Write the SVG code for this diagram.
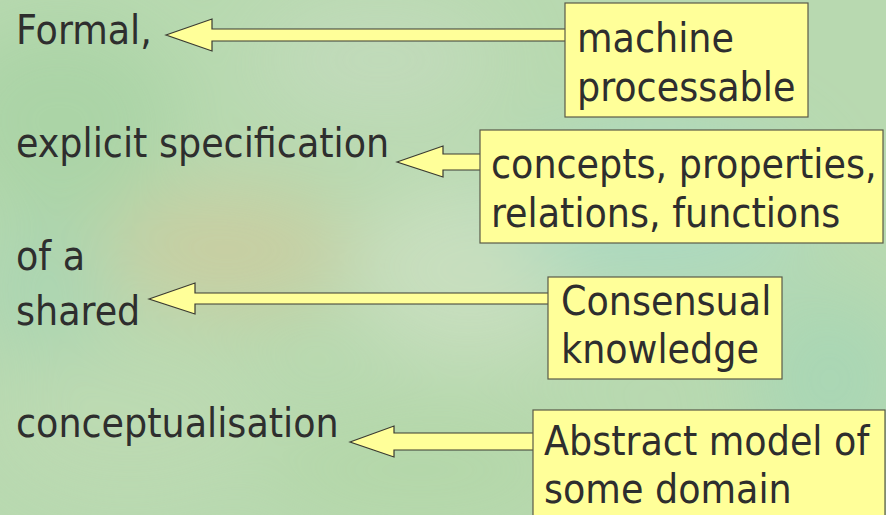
<svg xmlns="http://www.w3.org/2000/svg" width="886" height="515" viewBox="0 0 886 515">
<defs>
<style>
.t{font-family:"DejaVu Sans Condensed","DejaVu Sans",sans-serif;font-stretch:condensed;font-size:40.6px;fill:#2e2e2e}
.box{fill:#ffff99;stroke:#5a5a48;stroke-width:1.2}
.arr{fill:#ffff99;stroke:#3a3a32;stroke-width:1.2;stroke-linejoin:miter}
</style>
<filter id="blur" x="-50%" y="-50%" width="200%" height="200%"><feGaussianBlur stdDeviation="40"/></filter>
</defs>
<rect width="886" height="515" fill="#b8d9b0"/>
<g filter="url(#blur)" opacity="0.8">
<ellipse cx="60" cy="120" rx="120" ry="100" fill="#a8d3a4"/>
<ellipse cx="230" cy="250" rx="120" ry="60" fill="#cdcb9e"/>
<ellipse cx="470" cy="270" rx="120" ry="90" fill="#cce0c2"/>
<ellipse cx="380" cy="60" rx="120" ry="60" fill="#c4dbbe"/>
<ellipse cx="660" cy="210" rx="150" ry="90" fill="#aad9c2"/>
<ellipse cx="130" cy="420" rx="140" ry="80" fill="#bddab2"/>
<ellipse cx="420" cy="470" rx="160" ry="60" fill="#b4d7a8"/>
<ellipse cx="830" cy="380" rx="80" ry="90" fill="#a6d6b6"/>
<ellipse cx="40" cy="290" rx="70" ry="70" fill="#a8d4b2"/>
</g>
<g id="connectors">
<polygon class="arr" points="166,35 212,19 212,29 566,29 566,41 212,41 212,51"/>
<polygon class="arr" points="397,162 443,146 443,154 481,154 481,170 443,170 443,177"/>
<polygon class="arr" points="149,299 195,283 195,293 550,293 550,304 195,304 195,314"/>
<polygon class="arr" points="350,442 394,426 394,433 534,433 534,450 394,450 394,457"/>
</g>
<g id="labels">
<text class="t" x="16" y="44">Formal,</text>
<text class="t" x="16" y="157">explicit specification</text>
<text class="t" x="16" y="270">of a</text>
<text class="t" x="16" y="325">shared</text>
<text class="t" x="16" y="437">conceptualisation</text>
</g>
<g id="node-machine">
<rect class="box" x="565" y="3" width="243" height="114"/>
<text class="t" x="577" y="52">machine</text>
<text class="t" x="577" y="101">processable</text>
</g>
<g id="node-concepts">
<rect class="box" x="480" y="130" width="403" height="113"/>
<text class="t" x="491" y="178">concepts, properties,</text>
<text class="t" x="491" y="227">relations, functions</text>
</g>
<g id="node-consensual">
<rect class="box" x="548" y="277" width="234" height="102"/>
<text class="t" x="561" y="315">Consensual</text>
<text class="t" x="561" y="363">knowledge</text>
</g>
<g id="node-abstract">
<rect class="box" x="533" y="410" width="352" height="110"/>
<text class="t" x="544" y="455">Abstract model of</text>
<text class="t" x="544" y="503">some domain</text>
</g>
</svg>
